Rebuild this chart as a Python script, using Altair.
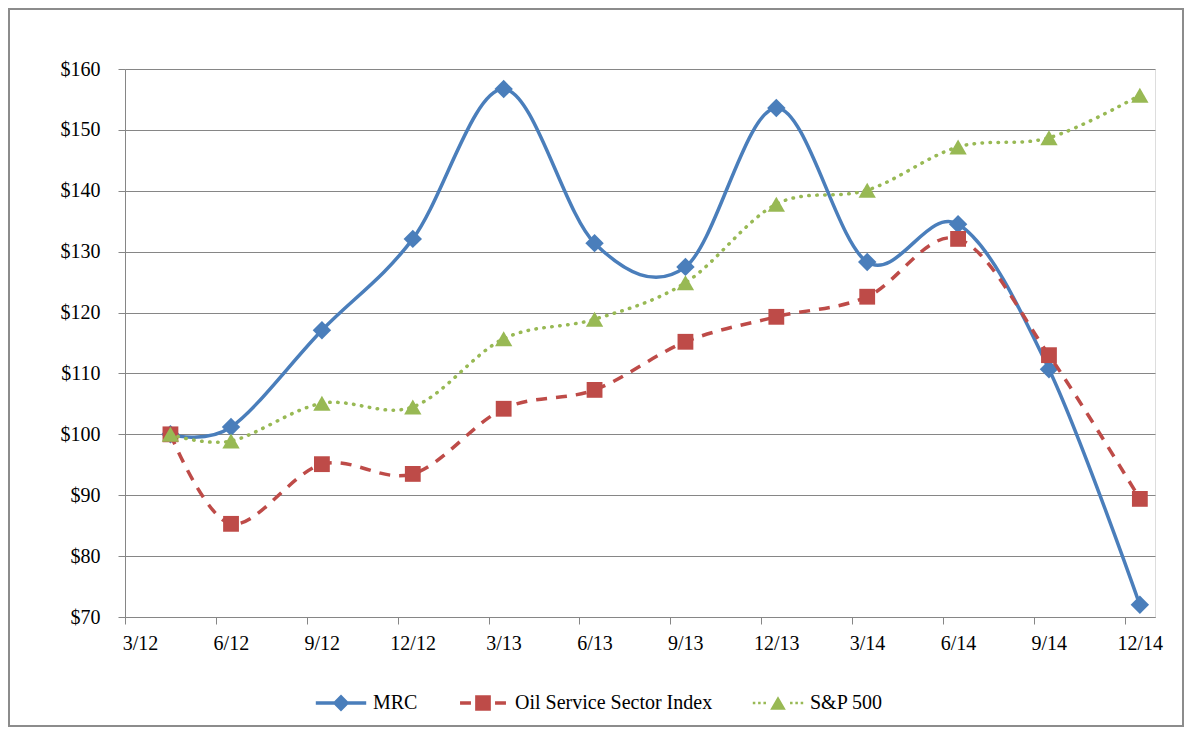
import altair as alt
import pandas as pd

# ---- data ----
point_dates = ["2012-04", "2012-06", "2012-09", "2012-12", "2013-03", "2013-06",
               "2013-09", "2013-12", "2014-03", "2014-06", "2014-09", "2014-12"]
tick_labels = ["3/12", "6/12", "9/12", "12/12", "3/13", "6/13",
               "9/13", "12/13", "3/14", "6/14", "9/14", "12/14"]
series_names = ["MRC", "Oil Service Sector Index", "S&P 500"]
mrc = [100.0, 101.2, 117.1, 132.1, 156.7, 131.4, 127.5, 153.6, 128.3, 134.5, 110.7, 72.0]
oil = [100.0, 85.3, 95.1, 93.5, 104.2, 107.3, 115.2, 119.3, 122.6, 132.1, 113.0, 89.4]
spx = [100.0, 98.9, 105.1, 104.5, 115.7, 118.9, 124.9, 137.8, 140.1, 147.2, 148.7, 155.7]
colors = ["#4A7EBB", "#BE4B48", "#98B954"]
y_ticks = [70, 80, 90, 100, 110, 120, 130, 140, 150, 160]

FONT = "Liberation Serif"
GRID = "#868686"


def month_pos(s):
    y, m = s.split("-")
    return (int(y) - 2012) * 12 + (int(m) - 3) + 0.5


rows = []
for name, vals in zip(series_names, [mrc, oil, spx]):
    for i, (d, v) in enumerate(zip(point_dates, vals)):
        rows.append({"series": name, "order": i, "x": month_pos(d), "value": v})
df = pd.DataFrame(rows)

tick_pos = [i * 3 for i in range(len(tick_labels))]
label_js = "[" + ",".join("'" + t + "'" for t in tick_labels) + "][round(datum.value/3)]"

x_enc = alt.X(
    "x:Q",
    scale=alt.Scale(domain=[0, 34], nice=False, zero=False),
    axis=alt.Axis(values=tick_pos, labelExpr=label_js, labelOffset=15, grid=False,
                  tickSize=7, tickColor=GRID, domainColor=GRID, labelFont=FONT,
                  labelFontSize=20, labelColor="black", labelPadding=9, title=None,
                  labelAngle=0, labelOverlap=False, labelBound=False, labelFlush=False),
)
y_enc = alt.Y(
    "value:Q",
    scale=alt.Scale(domain=[70, 160], nice=False, zero=False),
    axis=alt.Axis(values=y_ticks, labelExpr="'$' + datum.value", grid=True,
                  gridColor=GRID, gridWidth=1, tickSize=7, tickColor=GRID,
                  domainColor=GRID, labelFont=FONT, labelFontSize=20,
                  labelColor="black", labelPadding=18, title=None),
)

base = alt.Chart(df)

dashes = [None, [11, 9], [0.5, 7.5]]
caps = ["round", "butt", "round"]
shapes = ["diamond", "square", "triangle-up"]
sizes = [340, 250, 300]

layers = []
for name, col, dash, cap, shp, sz in zip(series_names, colors, dashes, caps, shapes, sizes):
    line_kw = dict(interpolate="cardinal", strokeWidth=3.5, color=col, strokeCap=cap)
    if dash:
        line_kw["strokeDash"] = dash
    line = base.transform_filter(alt.datum.series == name).mark_line(**line_kw).encode(
        x=x_enc, y=y_enc, order="order:Q")
    pts = base.transform_filter(alt.datum.series == name).mark_point(
        filled=True, shape=shp, size=sz, color=col, opacity=1).encode(x=x_enc, y=y_enc)
    layers += [line, pts]

# legend symbols: line sample + marker, in unit square coordinates
leg_paths = [
    "M-0.9,-0.0625H0.9V0.0625H-0.9Z M-0.3,0L0,-0.3L0.3,0L0,0.3Z",
    "M-0.82,-0.0625H-0.43V0.0625H-0.82Z M-0.28,-0.28H0.28V0.28H-0.28Z M0.43,-0.0625H0.82V0.0625H0.43Z",
    "M-0.9,-0.047H-0.81V0.047H-0.9Z M-0.71,-0.047H-0.62V0.047H-0.71Z M-0.52,-0.047H-0.43V0.047H-0.52Z "
    "M0,-0.24L0.28,0.24H-0.28Z "
    "M0.43,-0.047H0.52V0.047H0.43Z M0.62,-0.047H0.71V0.047H0.62Z M0.81,-0.047H0.9V0.047H0.81Z",
]
leg = alt.Legend(title=None, orient="none", legendX=188, legendY=606, direction="horizontal",
                 symbolSize=3136, symbolStrokeWidth=0, labelFont=FONT, labelFontSize=20,
                 labelColor="black", labelOffset=4, columnPadding=37, padding=0,
                 symbolOpacity=1, labelLimit=0)
legend_layer = base.transform_filter("false").mark_point(filled=True, opacity=1).encode(
    x=x_enc, y=y_enc,
    color=alt.Color("series:N", scale=alt.Scale(domain=series_names, range=colors), legend=leg),
    shape=alt.Shape("series:N", scale=alt.Scale(domain=series_names, range=leg_paths), legend=leg),
)

border = alt.Chart(alt.Data(values=[{"a": 1}])).mark_rect(
    fill=None, stroke="#8c8c8c", strokeWidth=2).encode(
    x=alt.value(-116), x2=alt.value(1058), y=alt.value(-60), y2=alt.value(657))

chart = alt.layer(border, *layers, legend_layer).properties(
    width=1030, height=548,
    padding={"left": 117, "top": 61, "right": 29, "bottom": 110},
    autosize=alt.AutoSizeParams(type="none"),
    background="white",
).configure_view(stroke=None).configure(font=FONT)

chart.save("out.html", embed_options={"renderer": "svg", "actions": False})
